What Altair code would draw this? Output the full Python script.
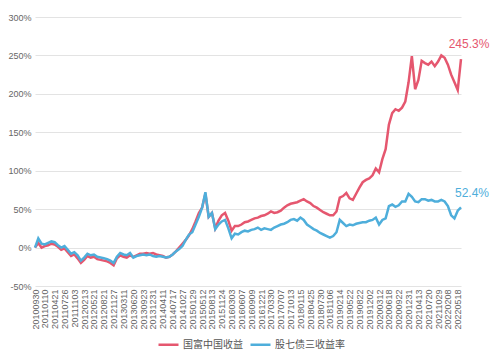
import altair as alt
import pandas as pd

tick_labels = ["20100930","20110110","20110421","20110726","20111103","20120213","20120521",
               "20120821","20121127","20130311","20130620","20130923","20131231","20140411",
               "20140717","20141027","20150129","20150512","20150813","20151124","20160303",
               "20160607","20160909","20161221","20170330","20170707","20171013","20180115",
               "20180425","20180730","20181106","20190214","20190522","20190822","20191202",
               "20200312","20200618","20200922","20201231","20210413","20210720","20211029",
               "20220208","20220518"]

# sampled every 1/3 of a tick interval
red_vals = [0, 6, 0, 2, 3, 5, 4, 1, -3, -1, -6, -11, -9, -14, -20, -16, -11, -13, -12, -15,
            -16, -17, -18, -20, -23, -14, -10, -12, -13, -10, -12, -10, -8, -8, -7, -8, -7, -9,
            -10, -11, -13, -12, -9, -5, 0, 5, 10, 16, 24, 34, 45, 52, 70, 40, 45, 25, 35, 42,
            45, 35, 22, 28, 28, 30, 33, 34, 36, 38, 39, 41, 42, 44, 47, 45, 46, 48, 52, 55, 57,
            58, 59, 61, 63, 60, 58, 54, 52, 49, 46, 44, 42, 42, 47, 65, 67, 71, 64, 62, 70, 78,
            85, 88, 90, 94, 103, 98, 115, 128, 160, 175, 180, 178, 182, 190, 215, 249, 206, 218,
            243, 240, 238, 242, 236, 242, 250, 247, 238, 225, 215, 205, 245.3]
blue_vals = [0, 12, 5, 4, 6, 8, 7, 3, 0, 2, -3, -8, -6, -10, -17, -13, -8, -10, -9, -12,
             -13, -14, -15, -17, -20, -12, -7, -9, -10, -7, -13, -11, -10, -9, -10, -9, -11, -12,
             -11, -12, -13, -12, -9, -5, -2, 2, 10, 17, 20, 30, 40, 52, 72, 40, 45, 24, 30, 34,
             36, 25, 12, 18, 17, 20, 22, 21, 23, 24, 26, 23, 25, 24, 23, 26, 28, 30, 31, 33, 36,
             37, 35, 39, 36, 30, 27, 24, 22, 19, 17, 15, 13, 15, 20, 36, 32, 28, 30, 29, 31, 32,
             33, 33, 35, 36, 39, 30, 36, 38, 54, 56, 53, 55, 60, 60, 70, 66, 60, 59, 63, 63, 61,
             62, 60, 60, 62, 60, 54, 42, 38, 48, 52.4]

s_red = "国富中国收益"
s_blue = "股七债三收益率"
c_red = "#e5576f"
c_blue = "#4eaedb"

rows = []
for i, v in enumerate(red_vals):
    rows.append({"t": i / 3, "v": v, "s": s_red})
for i, v in enumerate(blue_vals):
    rows.append({"t": i / 3, "v": v, "s": s_blue})
df = pd.DataFrame(rows)

tmax = (len(red_vals) - 1) / 3
arr = "[" + ",".join("'" + t + "'" for t in tick_labels) + "]"

x_scale = alt.Scale(domain=[0, tmax], nice=False, zero=False)
y_scale = alt.Scale(domain=[-50, 300], nice=False)
x_axis = alt.Axis(values=list(range(len(tick_labels))), labelExpr=arr + "[datum.value]",
                  labelAngle=270, labelFontSize=9, labelColor="#666666", grid=False,
                  domain=False, ticks=False, title=None, labelPadding=3,
                  labelFont="Liberation Sans", labelOverlap=False, labelBound=False)
y_axis = alt.Axis(values=[-50, 0, 50, 100, 150, 200, 250, 300],
                  labelExpr="datum.value + '%'", labelFontSize=9, labelColor="#666666",
                  gridColor="#e3e3e3", domain=False, ticks=False, title=None,
                  labelPadding=4, labelFont="Liberation Sans", labelOverlap=False)

x = alt.X("t:Q", scale=x_scale, axis=x_axis)
y = alt.Y("v:Q", scale=y_scale, axis=y_axis)

color = alt.Color("s:N", scale=alt.Scale(domain=[s_red, s_blue], range=[c_red, c_blue]),
                  legend=alt.Legend(title=None, orient="none", direction="horizontal",
                                    legendX=122, legendY=316, symbolType="stroke",
                                    symbolStrokeWidth=2.5, symbolSize=400, labelFontSize=10,
                                    labelColor="#555555", columnPadding=2, labelOffset=3,
                                    labelFont="Noto Sans CJK SC"))

lines = alt.Chart(df).mark_line(strokeWidth=2.5).encode(x=x, y=y, color=color)

end_df = pd.DataFrame([
    {"t": tmax, "v": red_vals[-1], "lab": f"{red_vals[-1]}%", "s": s_red},
    {"t": tmax, "v": blue_vals[-1], "lab": f"{blue_vals[-1]}%", "s": s_blue},
])
end_red = alt.Chart(end_df[end_df.s == s_red]).mark_text(
    fontSize=12, color=c_red, dx=8, dy=-15, font="Liberation Sans").encode(
    x=alt.X("t:Q", scale=x_scale, axis=x_axis), y=alt.Y("v:Q", scale=y_scale, axis=y_axis),
    text="lab:N")
end_blue = alt.Chart(end_df[end_df.s == s_blue]).mark_text(
    fontSize=12, color=c_blue, dx=11, dy=-14, font="Liberation Sans").encode(
    x=alt.X("t:Q", scale=x_scale, axis=x_axis), y=alt.Y("v:Q", scale=y_scale, axis=y_axis),
    text="lab:N")

chart = alt.layer(lines, end_red, end_blue).properties(
    width=426, height=269,
    autosize=alt.AutoSizeParams(type="none"),
    padding={"left": 27, "top": 9, "right": 30, "bottom": 66},
).configure_view(stroke=None).configure_axis(labelOverlap=False)

chart.save("out.html", embed_options={"renderer": "svg", "actions": False})
